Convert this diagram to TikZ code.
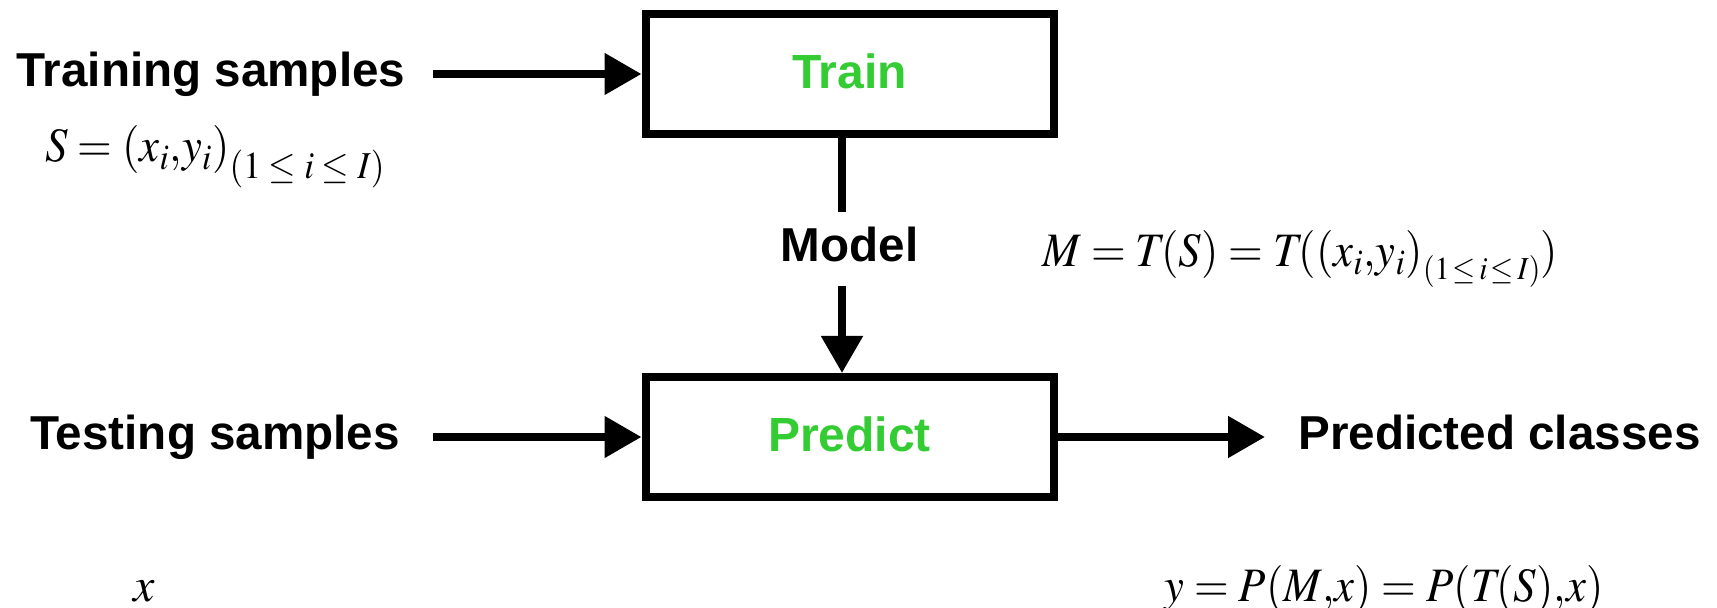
\documentclass[tikz,border=0pt]{standalone}
\usepackage{mathptmx}
\usepackage{graphicx}
\usepackage{fontspec}
\setmainfont{Liberation Serif}
\newfontfamily\labelfont{Liberation Sans}
\usetikzlibrary{arrows.meta}
\definecolor{stepgreen}{RGB}{51,204,51}
\DeclareMathSizes{24}{24}{18}{14}
% index range set below the closing parenthesis: #1 size, #2 drop, #3 gap
\newcommand{\rangesub}[3]{\raisebox{-#2}{\fontsize{#1}{#1}\selectfont$(1#3{\le}#3i#3{\le}#3I)$}}
% slightly condensed formula
\newcommand{\eqtext}[1]{\scalebox{0.93}[1]{#1}}
\begin{document}
\begin{tikzpicture}[x=0.5pt,y=-0.5pt,
  box/.style={draw, line width=4pt, minimum width=204pt, minimum height=60pt,
    inner sep=0pt, text depth=3.2pt,
    font=\labelfont\bfseries\fontsize{24}{28}\selectfont, text=stepgreen},
  tag/.style={font=\labelfont\bfseries\fontsize{23.8}{28}\selectfont, inner sep=0pt},
  formula/.style={font=\fontsize{24}{28}\selectfont, inner sep=0pt, anchor=base west},
  flow/.style={line width=4pt, -{Triangle[length=18.5pt,width=20pt]}},
  link/.style={line width=4pt}
]
\useasboundingbox (0,0) rectangle (1717,608);

% processing blocks
\node[box] (train) at (849.5,74) {Train};
\node[box] (predict) at (849.5,437) {Predict};

% inputs, intermediate and output labels
\node[tag, anchor=base west] (trainin) at (16,87) {Training samples};
\node[tag, anchor=base west] (testin) at (30,450) {Testing samples};
\node[tag, anchor=base] (model) at (849.5,262) {Model};
\node[tag, anchor=base west] (out) at (1298,450) {Predicted classes};

% formulas
\node[formula] (sdef) at (45,162)
  {\eqtext{$S=(x_i{,}y_i)$\rangesub{19pt}{8.5pt}{\;}}};
\node[formula] (mdef) at (1042,267)
  {\eqtext{$M=T\!(S)=T\!((x_i{,}y_i)$\rangesub{16pt}{6.5pt}{\,}$)$}};
\node[formula] (xdef) at (133,601) {$x$};
\node[formula] (ydef) at (1164,601) {\eqtext{$y=P(M{,}x)=P(T\!(S){,}x)$}};

% connectors
\coordinate (tsrc) at (433,74);
\coordinate (psrc) at (433,437);
\coordinate (pdst) at (1265,437);
\coordinate (mtop) at (842,212);
\coordinate (mbot) at (842,286);

\draw[flow] (tsrc) -- (train.west);
\draw[flow] (psrc) -- (predict.west);
\draw[flow] (predict.east) -- (pdst);
\draw[link] (mtop |- train.south) -- (mtop);
\draw[flow] (mbot) -- (mbot |- predict.north);
\end{tikzpicture}
\end{document}
